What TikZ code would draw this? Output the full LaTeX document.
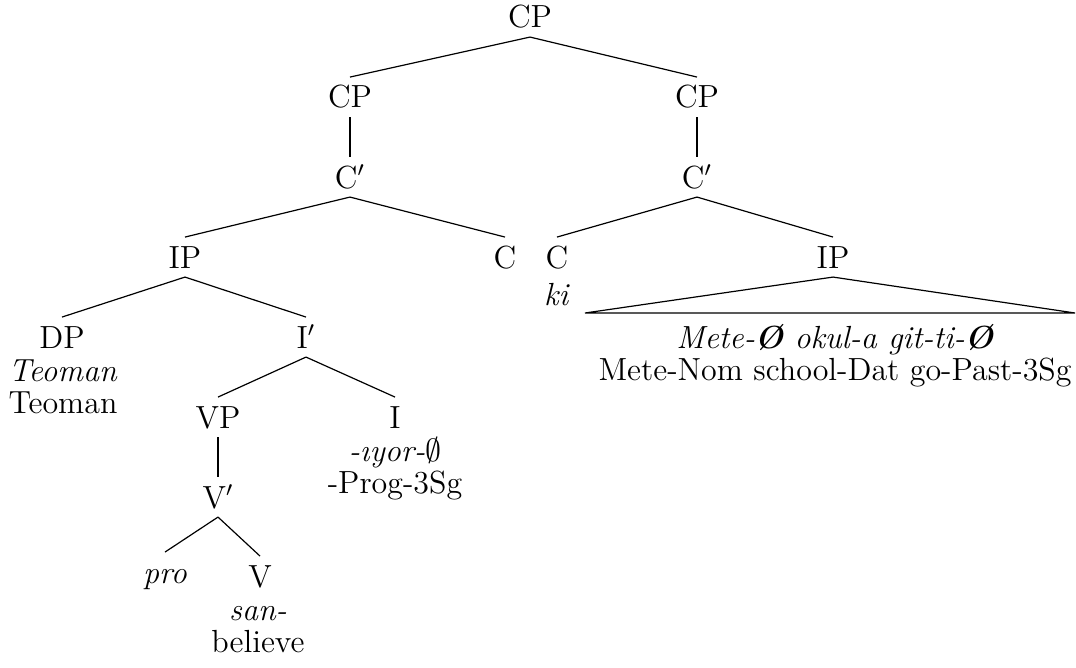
\documentclass[tikz,border=0pt]{standalone}
\begin{document}
\begin{tikzpicture}[x=0.375pt,y=-0.375pt,
  every node/.style={font=\fontsize{12pt}{14pt}\selectfont},
  cat/.style={anchor=base,inner xsep=1pt,inner ysep=3.2pt,text height=8.2pt,text depth=0pt},
  gl/.style={anchor=base,inner sep=0pt},
  br/.style={line width=0.45pt}]
\useasboundingbox (0,0) rectangle (1076,667);

% category labels
\node[cat] (cp)   at (530,28)  {CP};
\node[cat] (cpl)  at (350,108) {CP};
\node[cat] (cpr)  at (697,108) {CP};
\node[cat] (cbl)  at (350,188) {C$'$};
\node[cat] (cbr)  at (697,188) {C$'$};
\node[cat] (ipl)  at (185,268) {IP};
\node[cat] (cl)   at (505,268) {C};
\node[cat] (cr)   at (557,268) {C};
\node[cat] (ipr)  at (833,268) {IP};
\node[cat] (dp)   at (62,348)  {DP};
\node[cat] (ib)   at (306,348) {I$'$};
\node[cat] (vp)   at (218,428) {VP};
\node[cat] (i)    at (395,428) {I};
\node[cat] (vb)   at (218,508) {V$'$};
\node[cat] (pro)  at (165,583) {\textit{pro}};
\node[cat] (v)    at (260,587) {V};

% lexical material and glosses
\node[gl] (ki)    at (557,305) {\textit{ki}};
\node[gl] (dpw)   at (63,381)  {\textit{Teoman}};
\node[gl] (dpg)   at (63,413)  {Teoman};
\node[gl] (iw)    at (395,461) {\textit{-\i yor-}$\emptyset$};
\node[gl] (ig)    at (395,493) {-Prog-3Sg};
\node[gl] (vw)    at (258,620) {\textit{san-}};
\node[gl] (vg)    at (258,652) {believe};
\node[gl] (ipw)   at (835,348) {\textit{Mete-\textbf{\O} okul-a git-ti-\textbf{\O}}};
\node[gl] (ipg)   at (835,380) {Mete-Nom school-Dat go-Past-3Sg};

% branches
\draw[br] (cp.south) -- (cpl.north);
\draw[br] (cp.south) -- (cpr.north);
\draw[br] (cpl.south) -- (cbl.north);
\draw[br] (cpr.south) -- (cbr.north);
\draw[br] (cbl.south) -- (ipl.north);
\draw[br] (cbl.south) -- (cl.north);
\draw[br] (cbr.south) -- (cr.north);
\draw[br] (cbr.south) -- (ipr.north);
\draw[br] (ipl.south) -- (dp.north);
\draw[br] (ipl.south) -- (ib.north);
\draw[br] (ib.south) -- (vp.north);
\draw[br] (ib.south) -- (i.north);
\draw[br] (vp.south) -- (vb.north);
\draw[br] (vb.south) -- (pro.north);
\draw[br] (vb.south) -- (v.north);

% roof over the embedded IP
\coordinate (tl) at (585,313);
\coordinate (tr) at (1075,313);
\draw[br] (ipr.south) -- (tl) -- (tr) -- cycle;
\end{tikzpicture}
\end{document}
